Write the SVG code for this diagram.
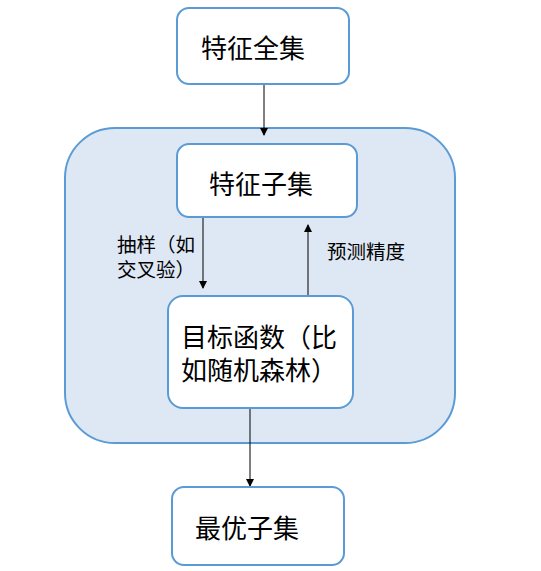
<svg xmlns="http://www.w3.org/2000/svg" width="541" height="571" viewBox="0 0 541 571">
<defs>
<marker id="ah" markerWidth="8" markerHeight="8" refX="7" refY="4" orient="auto" markerUnits="userSpaceOnUse">
<path d="M0,0 L8,4 L0,8 Z" fill="#000"/>
</marker>
<style>
.node{fill:#fff;stroke:#5b9bd5;stroke-width:2}
.t{font-family:"Microsoft YaHei","Noto Sans CJK SC",sans-serif;fill:#000}
.big{font-size:26px}
.small{font-size:19.5px}
.c{stroke:#000;stroke-width:1;fill:none;marker-end:url(#ah)}
</style>
</defs>
<rect width="541" height="571" fill="#fff"/>
<g id="container">
<rect x="65" y="128" width="390" height="315" rx="50" fill="#dee8f5" stroke="#5b9bd5" stroke-width="2"/>
</g>
<g id="connectors">
<line class="c" x1="264" y1="84" x2="264" y2="135"/>
<line class="c" x1="203" y1="217" x2="203" y2="288"/>
<line class="c" x1="308" y1="296" x2="308" y2="225"/>
<line class="c" x1="250" y1="408" x2="250" y2="486"/>
<text class="t small"><tspan x="117" y="252" textLength="78">抽样（如</tspan><tspan x="117" y="277" textLength="78">交叉验）</tspan></text>
<text class="t small" x="327" y="259">预测精度</text>
</g>
<g id="n1">
<rect class="node" x="177" y="8" width="172" height="76" rx="12"/>
<text class="t big" x="201" y="58">特征全集</text>
</g>
<g id="n2">
<rect class="node" x="177" y="144" width="180" height="73" rx="12"/>
<text class="t big" x="209" y="194">特征子集</text>
</g>
<g id="n3">
<rect class="node" x="168" y="296" width="185" height="112" rx="15"/>
<text class="t big"><tspan x="181" y="347">目标函数（比</tspan><tspan x="181" y="380">如随机森林）</tspan></text>
</g>
<g id="n4">
<rect class="node" x="172" y="487" width="172" height="78" rx="12"/>
<text class="t big" x="195" y="538">最优子集</text>
</g>
</svg>
